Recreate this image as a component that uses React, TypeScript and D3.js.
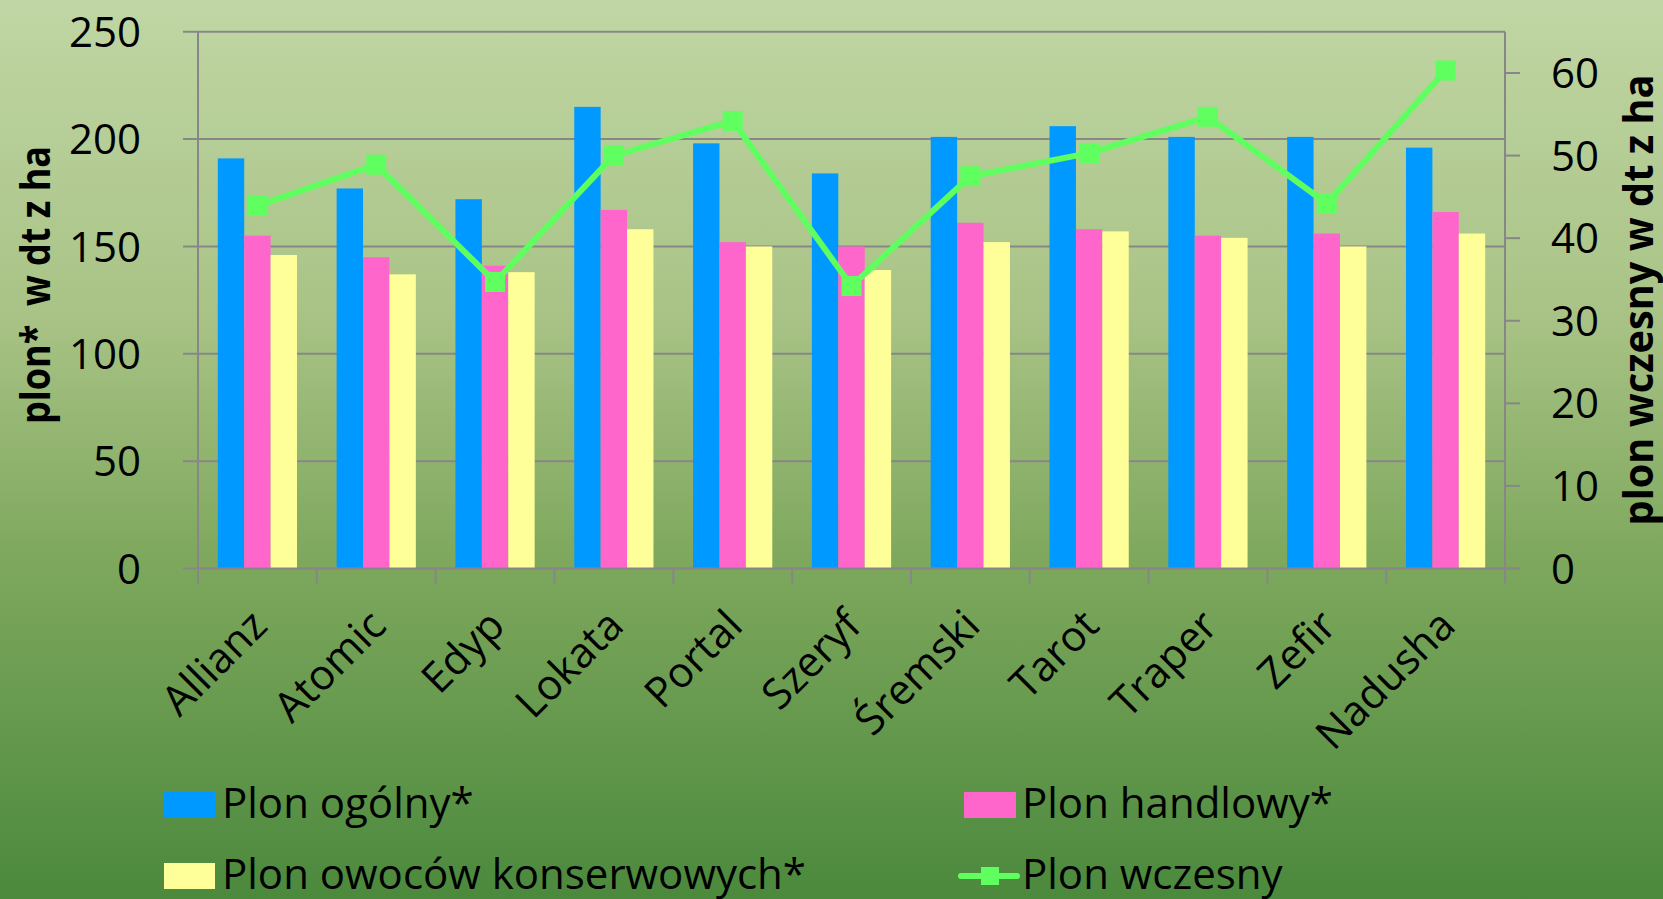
import { useEffect } from 'react';
import * as d3 from 'd3';

const categories = ['Allianz', 'Atomic', 'Edyp', 'Lokata', 'Portal', 'Szeryf', 'Śremski', 'Tarot', 'Traper', 'Zefir', 'Nadusha'];
const plonOgolny = [191, 177, 172, 215, 198, 184, 201, 206, 201, 201, 196];
const plonHandlowy = [155, 145, 141, 167, 152, 150, 161, 158, 155, 156, 166];
const plonKonserwowy = [146, 137, 138, 158, 150, 139, 152, 157, 154, 150, 156];
const plonWczesny = [43.9, 48.9, 34.7, 50.0, 54.2, 34.2, 47.5, 50.3, 54.7, 44.2, 60.3];
const leftTicks = [0, 50, 100, 150, 200, 250];
const rightTicks = [0, 10, 20, 30, 40, 50, 60];

const barSeries = [
  { name: 'Plon ogólny*', values: plonOgolny, color: '#0099ff' },
  { name: 'Plon handlowy*', values: plonHandlowy, color: '#ff66cc' },
  { name: 'Plon owoców konserwowych*', values: plonKonserwowy, color: '#ffff99' },
];

const W = 1663;
const H = 899;
const FONT = '"Open Sans", sans-serif';
const LINE_COLOR = '#5eff5e';
const GRID = '#878787';

export default function App() {
  useEffect(() => {
    document.body.style.margin = '0';
  }, []);

  const left = 198;
  const right = 1505;
  const top = 31.7;
  const bottom = 568.5;

  const x = d3.scaleBand().domain(categories).range([left, right]).padding(0);
  const x1 = d3.scaleBand()
    .domain(barSeries.map(s => s.name))
    .range([0, x.bandwidth()])
    .paddingInner(0)
    .paddingOuter(0.75);
  const y = d3.scaleLinear().domain([0, 250]).range([bottom, top]);
  const y2 = d3.scaleLinear().domain([0, 65]).range([bottom, top]);

  const cx = (c: string) => (x(c) ?? 0) + x.bandwidth() / 2;

  const line = d3.line<number>()
    .x((_, i) => cx(categories[i]))
    .y(d => y2(d));

  const markerSize = 20;

  return (
    <svg width={W} height={H} style={{ display: 'block' }} fontFamily={FONT}>
      <defs>
        <linearGradient id="bg" x1="0" y1="0" x2="0" y2="1">
          <stop offset="0" stopColor="#c0d6a4" />
          <stop offset="0.35" stopColor="#a9c386" />
          <stop offset="0.62" stopColor="#7ea85d" />
          <stop offset="1" stopColor="#4b893d" />
        </linearGradient>
      </defs>
      <rect x={0} y={0} width={W} height={H} fill="url(#bg)" />

      {/* gridlines + left ticks */}
      {leftTicks.map(t => (
        <line key={'g' + t} x1={left - 15} x2={right} y1={y(t)} y2={y(t)} stroke={GRID} strokeWidth={2} />
      ))}
      {leftTicks.map(t => (
        <text key={'lt' + t} x={141} y={y(t)} dy="0.36em" textAnchor="end" fontSize={42} fill="#000">{t}</text>
      ))}

      {/* bars */}
      {barSeries.map(s => (
        <g key={s.name}>
          {s.values.map((v, i) => (
            <rect
              key={i}
              x={(x(categories[i]) ?? 0) + (x1(s.name) ?? 0)}
              y={y(v)}
              width={x1.bandwidth()}
              height={bottom - y(v)}
              fill={s.color}
            />
          ))}
        </g>
      ))}

      {/* axes lines */}
      <line x1={left} x2={left} y1={top} y2={bottom + 15} stroke={GRID} strokeWidth={2} />
      <line x1={right} x2={right} y1={top} y2={bottom + 15} stroke={GRID} strokeWidth={2} />
      <line x1={left} x2={right + 15} y1={bottom} y2={bottom} stroke={GRID} strokeWidth={2} />
      {categories.map(c => (
        <line key={'ct' + c} x1={x(c)} x2={x(c)} y1={bottom} y2={bottom + 15} stroke={GRID} strokeWidth={2} />
      ))}
      {rightTicks.map(t => (
        <line key={'rt' + t} x1={right} x2={right + 15} y1={y2(t)} y2={y2(t)} stroke={GRID} strokeWidth={2} />
      ))}
      {rightTicks.map(t => (
        <text key={'rl' + t} x={1551} y={y2(t)} dy="0.36em" textAnchor="start" fontSize={42} fill="#000">{t}</text>
      ))}

      {/* category labels */}
      {categories.map(c => (
        <text
          key={'cl' + c}
          transform={`translate(${cx(c) + 12},${628}) rotate(-45)`}
          textAnchor="end"
          fontSize={42}
          fill="#000"
        >
          {c}
        </text>
      ))}

      {/* axis titles */}
      <text
        transform={`translate(50,285) rotate(-90)`}
        textAnchor="middle"
        fontSize={42}
        fontWeight="bold"
        textLength={278}
        lengthAdjust="spacingAndGlyphs"
        fill="#000"
        style={{ whiteSpace: 'pre' }}
      >
        {'plon*  w dt z ha'}
      </text>
      <text
        transform={`translate(1653,300) rotate(-90)`}
        textAnchor="middle"
        fontSize={42}
        fontWeight="bold"
        textLength={451}
        lengthAdjust="spacingAndGlyphs"
        fill="#000"
      >
        plon wczesny w dt z ha
      </text>

      {/* line series */}
      <path d={line(plonWczesny) ?? ''} fill="none" stroke={LINE_COLOR} strokeWidth={6} strokeLinejoin="round" />
      {plonWczesny.map((v, i) => (
        <rect
          key={'m' + i}
          x={cx(categories[i]) - markerSize / 2}
          y={y2(v) - markerSize / 2}
          width={markerSize}
          height={markerSize}
          fill={LINE_COLOR}
        />
      ))}

      {/* legend */}
      <g fontSize={42} fill="#000">
        <rect x={164} y={792} width={51} height={26} fill={barSeries[0].color} />
        <text x={222} y={818}>{barSeries[0].name}</text>
        <rect x={964} y={792} width={52} height={26} fill={barSeries[1].color} />
        <text x={1022} y={818}>{barSeries[1].name}</text>
        <rect x={164} y={863} width={51} height={26} fill={barSeries[2].color} />
        <text x={222} y={889}>{barSeries[2].name}</text>
        <line x1={961} x2={1017} y1={876} y2={876} stroke={LINE_COLOR} strokeWidth={6} strokeLinecap="round" />
        <rect x={981} y={867} width={18} height={18} fill={LINE_COLOR} />
        <text x={1022} y={889}>Plon wczesny</text>
      </g>
    </svg>
  );
}
